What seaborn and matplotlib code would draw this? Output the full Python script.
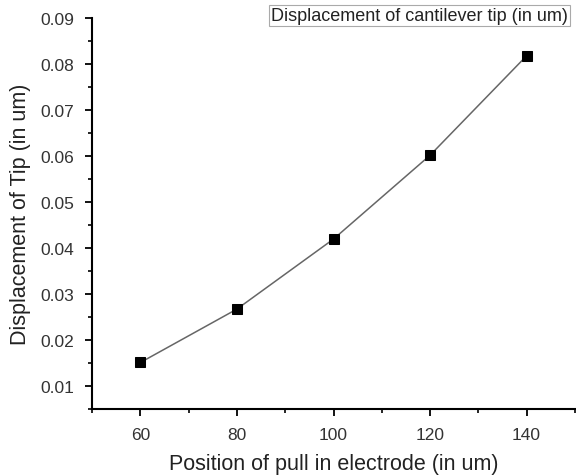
import matplotlib
matplotlib.use("Agg")
import matplotlib.pyplot as plt
import seaborn as sns
import pandas as pd
from matplotlib.ticker import MultipleLocator

position = [60, 80, 100, 120, 140]
displacement = [0.0151, 0.0267, 0.0419, 0.0601, 0.0817]
x_ticks = [60, 80, 100, 120, 140]
y_ticks = [0.01, 0.02, 0.03, 0.04, 0.05, 0.06, 0.07, 0.08, 0.09]
y_tick_labels = ["0.01", "0.02", "0.03", "0.04", "0.05", "0.06", "0.07", "0.08", "0.09"]
series_label = "Displacement of cantilever tip (in um)"

sns.set_theme(style="ticks")
plt.rcParams['font.family'] = ['Liberation Sans', 'DejaVu Sans']

df = pd.DataFrame({"x": position, "y": displacement})

fig = plt.figure(figsize=(5.76, 4.77), dpi=100)
ax = fig.add_axes([0.16, 0.1405, 0.838, 0.8205])

sns.lineplot(data=df, x="x", y="y", ax=ax, color="#666666", linewidth=1.1,
             marker="s", markersize=6.5, markerfacecolor="black",
             markeredgecolor="black", label=series_label, legend=False)

ax.set_xlim(50, 150)
ax.set_ylim(0.005, 0.09)
ax.xaxis.set_minor_locator(MultipleLocator(10))
ax.yaxis.set_minor_locator(MultipleLocator(0.005))
ax.set_xticks(x_ticks)
ax.set_xticklabels([str(v) for v in x_ticks])
ax.set_yticks(y_ticks)
ax.set_yticklabels(y_tick_labels)

for s in ["top", "right"]:
    ax.spines[s].set_visible(False)
for s in ["left", "bottom"]:
    ax.spines[s].set_linewidth(1.5)
    ax.spines[s].set_color("black")

ax.tick_params(axis="both", which="major", direction="out", length=5, width=1.3,
               labelsize=12.5, colors="black", labelcolor="#333333")
ax.tick_params(axis="x", which="major", pad=8)
ax.tick_params(axis="y", which="major", pad=8)
ax.tick_params(axis="both", which="minor", direction="out", length=3, width=1.2, colors="black")

ax.set_xlabel("Position of pull in electrode (in um)", fontsize=15.5, color="#222222", labelpad=8)
ax.set_ylabel("Displacement of Tip (in um)", fontsize=15.5, color="#222222", labelpad=7)

fig.text(0.9865, 0.966, series_label, ha="right", va="center", fontsize=13,
         color="#222222",
         bbox=dict(boxstyle="square,pad=0.12", facecolor="white", edgecolor="#aaaaaa", linewidth=0.8))

fig.savefig("out.png", dpi=100)
